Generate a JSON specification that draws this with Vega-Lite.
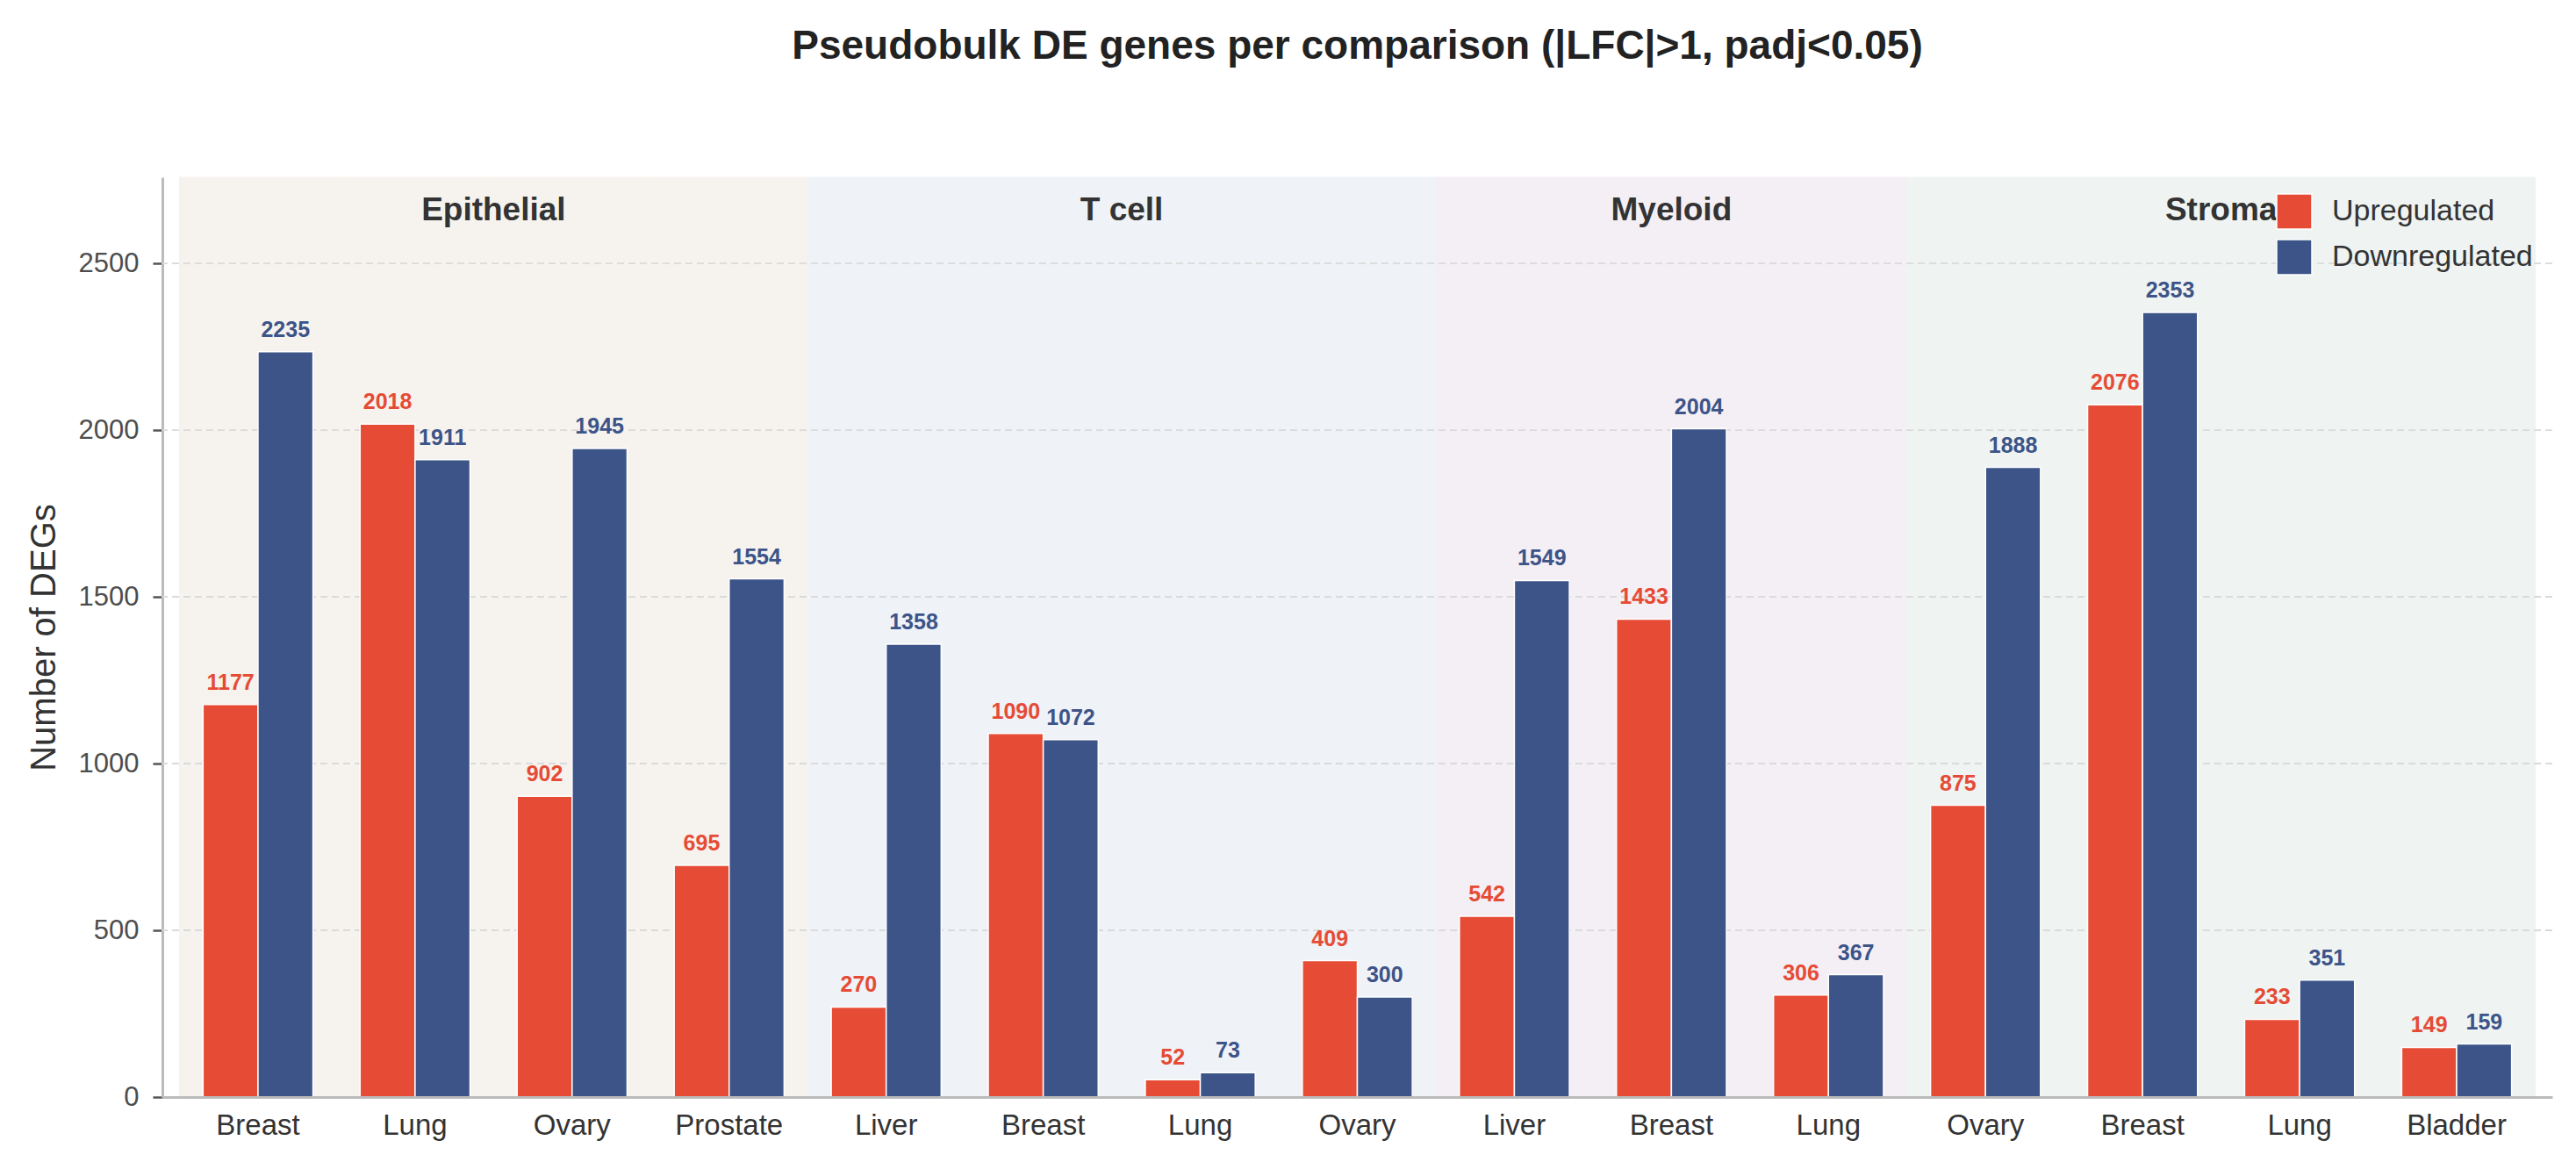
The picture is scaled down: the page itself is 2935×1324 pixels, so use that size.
{
  "$schema": "https://vega.github.io/schema/vega-lite/v6.json",
  "width": 2723,
  "height": 1048,
  "autosize": {"type": "none"},
  "padding": {"left": 185, "top": 202, "right": 27, "bottom": 74},
  "background": "white",
  "config": {
    "font": "Liberation Sans",
    "view": {"stroke": null}
  },
  "title": {
    "text": "Pseudobulk DE genes per comparison (|LFC|>1, padj<0.05)",
    "fontSize": 46,
    "fontWeight": "bold",
    "color": "#222222",
    "anchor": "middle",
    "baseline": "bottom",
    "offset": 78
  },
  "datasets": {
    "degs": [
      {"comparison": "Epithelial: Breast", "cell": "Epithelial", "direction": "Upregulated", "n": 1177},
      {"comparison": "Epithelial: Breast", "cell": "Epithelial", "direction": "Downregulated", "n": 2235},
      {"comparison": "Epithelial: Lung", "cell": "Epithelial", "direction": "Upregulated", "n": 2018},
      {"comparison": "Epithelial: Lung", "cell": "Epithelial", "direction": "Downregulated", "n": 1911},
      {"comparison": "Epithelial: Ovary", "cell": "Epithelial", "direction": "Upregulated", "n": 902},
      {"comparison": "Epithelial: Ovary", "cell": "Epithelial", "direction": "Downregulated", "n": 1945},
      {"comparison": "Epithelial: Prostate", "cell": "Epithelial", "direction": "Upregulated", "n": 695},
      {"comparison": "Epithelial: Prostate", "cell": "Epithelial", "direction": "Downregulated", "n": 1554},
      {"comparison": "T cell: Liver", "cell": "T cell", "direction": "Upregulated", "n": 270},
      {"comparison": "T cell: Liver", "cell": "T cell", "direction": "Downregulated", "n": 1358},
      {"comparison": "T cell: Breast", "cell": "T cell", "direction": "Upregulated", "n": 1090},
      {"comparison": "T cell: Breast", "cell": "T cell", "direction": "Downregulated", "n": 1072},
      {"comparison": "T cell: Lung", "cell": "T cell", "direction": "Upregulated", "n": 52},
      {"comparison": "T cell: Lung", "cell": "T cell", "direction": "Downregulated", "n": 73},
      {"comparison": "T cell: Ovary", "cell": "T cell", "direction": "Upregulated", "n": 409},
      {"comparison": "T cell: Ovary", "cell": "T cell", "direction": "Downregulated", "n": 300},
      {"comparison": "Myeloid: Liver", "cell": "Myeloid", "direction": "Upregulated", "n": 542},
      {"comparison": "Myeloid: Liver", "cell": "Myeloid", "direction": "Downregulated", "n": 1549},
      {"comparison": "Myeloid: Breast", "cell": "Myeloid", "direction": "Upregulated", "n": 1433},
      {"comparison": "Myeloid: Breast", "cell": "Myeloid", "direction": "Downregulated", "n": 2004},
      {"comparison": "Myeloid: Lung", "cell": "Myeloid", "direction": "Upregulated", "n": 306},
      {"comparison": "Myeloid: Lung", "cell": "Myeloid", "direction": "Downregulated", "n": 367},
      {"comparison": "Stroma: Ovary", "cell": "Stroma", "direction": "Upregulated", "n": 875},
      {"comparison": "Stroma: Ovary", "cell": "Stroma", "direction": "Downregulated", "n": 1888},
      {"comparison": "Stroma: Breast", "cell": "Stroma", "direction": "Upregulated", "n": 2076},
      {"comparison": "Stroma: Breast", "cell": "Stroma", "direction": "Downregulated", "n": 2353},
      {"comparison": "Stroma: Lung", "cell": "Stroma", "direction": "Upregulated", "n": 233},
      {"comparison": "Stroma: Lung", "cell": "Stroma", "direction": "Downregulated", "n": 351},
      {"comparison": "Stroma: Bladder", "cell": "Stroma", "direction": "Upregulated", "n": 149},
      {"comparison": "Stroma: Bladder", "cell": "Stroma", "direction": "Downregulated", "n": 159}
    ],
    "cellLabels": [
      {"cell": "Epithelial", "comparison": "Epithelial: Lung", "span": "even"},
      {"cell": "T cell", "comparison": "T cell: Breast", "span": "even"},
      {"cell": "Myeloid", "comparison": "Myeloid: Breast", "span": "odd"},
      {"cell": "Stroma", "comparison": "Stroma: Breast", "span": "even"}
    ],
    "gridlines": [
      {"v": 500}, {"v": 1000}, {"v": 1500}, {"v": 2000}, {"v": 2500}
    ]
  },
  "encoding": {
    "x": {
      "field": "comparison",
      "type": "nominal",
      "title": null,
      "scale": {
        "domain": [
          "Epithelial: Breast", "Epithelial: Lung", "Epithelial: Ovary", "Epithelial: Prostate",
          "T cell: Liver", "T cell: Breast", "T cell: Lung", "T cell: Ovary",
          "Myeloid: Liver", "Myeloid: Breast", "Myeloid: Lung",
          "Stroma: Ovary", "Stroma: Breast", "Stroma: Lung", "Stroma: Bladder"
        ],
        "paddingInner": 0,
        "paddingOuter": 0.109
      },
      "axis": {
        "labelExpr": "split(datum.label, ': ')[1]",
        "labelAngle": 0,
        "labelFontSize": 33,
        "labelColor": "#333333",
        "labelPadding": 16,
        "ticks": false,
        "domainColor": "#BBBBBB",
        "domainWidth": 3,
        "grid": false
      }
    }
  },
  "layer": [
    {
      "data": {"name": "degs"},
      "transform": [{"filter": "datum.direction == 'Upregulated'"}],
      "mark": {"type": "rect", "strokeWidth": 1.2},
      "encoding": {
        "fill": {
          "field": "cell",
          "type": "nominal",
          "legend": null,
          "scale": {
            "domain": ["Epithelial", "T cell", "Myeloid", "Stroma"],
            "range": ["#F6F3EF", "#EFF2F7", "#F4EFF5", "#EFF3F2"]
          }
        },
        "stroke": {
          "field": "cell",
          "type": "nominal",
          "legend": null,
          "scale": {
            "domain": ["Epithelial", "T cell", "Myeloid", "Stroma"],
            "range": ["#F6F3EF", "#EFF2F7", "#F4EFF5", "#EFF3F2"]
          }
        }
      }
    },
    {
      "data": {"name": "gridlines"},
      "mark": {"type": "rule", "color": "#DADADA", "strokeWidth": 1.8, "strokeDash": [8, 5]},
      "encoding": {
        "x": null,
        "y": {"field": "v", "type": "quantitative"}
      }
    },
    {
      "data": {"name": "degs"},
      "mark": {"type": "bar", "stroke": "white", "strokeWidth": 1.5},
      "encoding": {
        "xOffset": {
          "field": "direction",
          "type": "nominal",
          "scale": {"domain": ["Upregulated", "Downregulated"], "paddingInner": 0, "paddingOuter": 0.4286}
        },
        "y": {
          "field": "n",
          "type": "quantitative",
          "title": "Number of DEGs",
          "scale": {"domain": [0, 2758], "nice": false},
          "axis": {
            "values": [0, 500, 1000, 1500, 2000, 2500],
            "format": "d",
            "grid": false,
            "labelFontSize": 31,
            "labelColor": "#4D4D4D",
            "labelPadding": 16,
            "tickColor": "#555555",
            "tickSize": 11,
            "tickWidth": 2.5,
            "domainColor": "#BBBBBB",
            "domainWidth": 3,
            "titleFontSize": 40,
            "titleFontWeight": "normal",
            "titleColor": "#333333",
            "titlePadding": 19
          }
        },
        "color": {
          "field": "direction",
          "type": "nominal",
          "title": null,
          "scale": {"domain": ["Upregulated", "Downregulated"], "range": ["#E64B35", "#3C5488"]},
          "legend": {
            "orient": "none",
            "legendX": 2408,
            "legendY": 18,
            "symbolType": "square",
            "symbolSize": 1600,
            "symbolStrokeColor": "white",
            "symbolStrokeWidth": 1.5,
            "labelFontSize": 34,
            "labelColor": "#333333",
            "labelOffset": 22,
            "labelLimit": 0,
            "rowPadding": 6
          }
        }
      }
    },
    {
      "data": {"name": "degs"},
      "mark": {"type": "text", "baseline": "bottom", "dy": -12, "fontSize": 25, "fontWeight": "bold"},
      "encoding": {
        "xOffset": {"field": "direction", "type": "nominal"},
        "y": {"field": "n", "type": "quantitative"},
        "text": {"field": "n", "type": "quantitative"},
        "color": {"field": "direction", "type": "nominal"}
      }
    },
    {
      "data": {"name": "cellLabels"},
      "transform": [{"filter": "datum.span == 'even'"}],
      "mark": {"type": "text", "baseline": "alphabetic", "fontSize": 37, "fontWeight": "bold", "color": "#333333"},
      "encoding": {
        "x": {"field": "comparison", "type": "nominal", "bandPosition": 1},
        "y": {"datum": 2630},
        "text": {"field": "cell"}
      }
    },
    {
      "data": {"name": "cellLabels"},
      "transform": [{"filter": "datum.span == 'odd'"}],
      "mark": {"type": "text", "baseline": "alphabetic", "fontSize": 37, "fontWeight": "bold", "color": "#333333"},
      "encoding": {
        "x": {"field": "comparison", "type": "nominal", "bandPosition": 0.5},
        "y": {"datum": 2630},
        "text": {"field": "cell"}
      }
    }
  ]
}
